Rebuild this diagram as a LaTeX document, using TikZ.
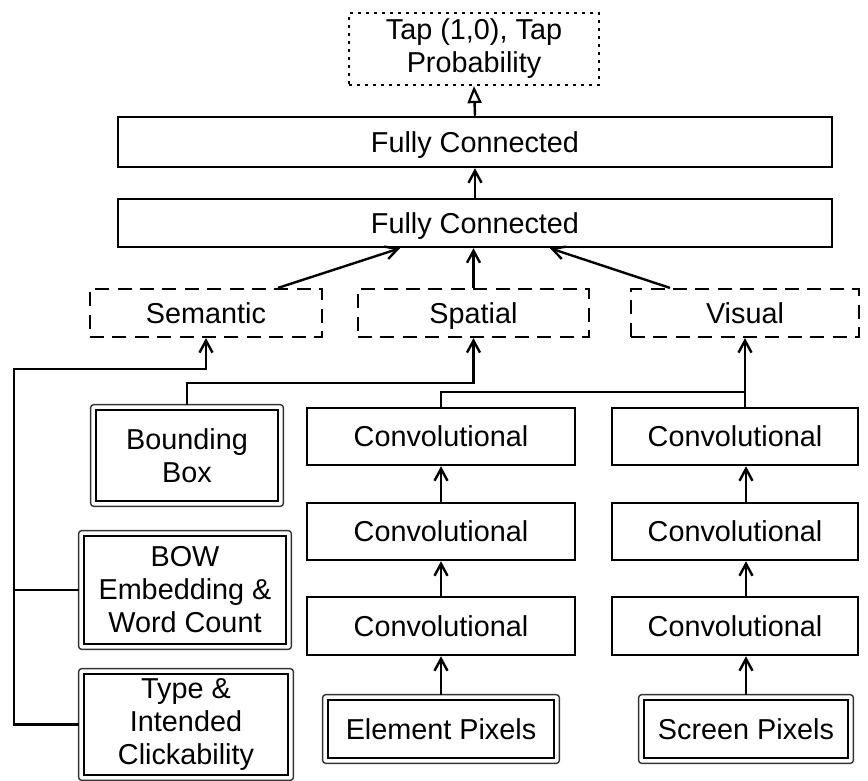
\documentclass[tikz,border=0pt]{standalone}
\usepackage{fontspec}
\setmainfont{Liberation Sans}
\usetikzlibrary{arrows.meta,calc}

\tikzset{
  sz/.style 2 args={minimum width=#1*0.5pt, minimum height=#2*0.5pt},
  base/.style={inner sep=0pt, align=center, font=\fontsize{14.4}{16.5}\selectfont},
  oneline/.style={text height=10.3pt, text depth=0pt},
  layer/.style={base, oneline, draw, line width=1.25pt},
  feature/.style={base, oneline, draw, line width=1.1pt, dash pattern=on 7pt off 4.2pt},
  result/.style={base, draw, line width=1.1pt, dash pattern=on 1.4pt off 2.6pt},
  inputbox/.style={base},
  dblout/.style={line width=0.7pt, draw=black!80, rounded corners=1.6pt},
  dblin/.style={line width=0.95pt},
  link/.style={line width=1.2pt},
  arr/.style={link, -{Straight Barb[length=6pt,width=6.5pt,line width=1.2pt]}},
  tri/.style={link, -{Triangle[open,length=8.5pt,width=7pt,line width=1.1pt,fill=white]}}
}

\begin{document}
\begin{tikzpicture}[x=0.5pt,y=-0.5pt]
\useasboundingbox (0,0) rectangle (868,781);

% output and dense layers
\node[result, sz={250}{72}] (out) at (474,49) {Tap (1,0), Tap\\Probability};
\node[layer, sz={714}{50}] (fc2) at (475,142) {Fully Connected};
\node[layer, sz={714}{48}] (fc1) at (475,223) {Fully Connected};

% feature groups
\node[feature, sz={232}{48}] (sem) at (206,313) {Semantic};
\node[feature, sz={231}{48}] (spa) at (473.5,313) {Spatial};
\node[feature, sz={228}{48}] (vis) at (745,313) {Visual};

% convolutional towers
\node[layer, sz={268}{57}] (cl1) at (441,436.5) {Convolutional};
\node[layer, sz={268}{57}] (cl2) at (441,531.5) {Convolutional};
\node[layer, sz={268}{58}] (cl3) at (441,626) {Convolutional};
\node[layer, sz={246}{57}] (cr1) at (735,436.5) {Convolutional};
\node[layer, sz={246}{57}] (cr2) at (735,531.5) {Convolutional};
\node[layer, sz={246}{58}] (cr3) at (735,626) {Convolutional};

% raw inputs (double-framed)
\node[inputbox, oneline, sz={236}{68}] (ep) at (441,729) {Element Pixels};
\node[inputbox, oneline, sz={214}{68}] (sp) at (746,729) {Screen Pixels};
\node[inputbox, sz={192}{101}] (bb) at (187,455.5) {Bounding\\Box};
\node[inputbox, sz={212}{118}] (bow) at (185,590) {BOW\\Embedding \&\\Word Count};
\node[inputbox, sz={214}{111}] (typ) at (186,724.5) {Type \&\\Intended\\Clickability};

\foreach \n in {ep,sp,bb,bow,typ}{
  \draw[dblout] (\n.south west) rectangle (\n.north east);
  \draw[dblin] ([shift={(5,-5)}]\n.south west) rectangle ([shift={(-5,5)}]\n.north east);
}

% junction levels
\coordinate (lx) at (14,369);
\coordinate (jb) at (0,383);
\coordinate (jc) at (0,392);

% top of the network
\draw[tri] (fc2.north) -- (out.south);
\draw[arr] (fc1.north) -- (fc2.south);
\draw[arr] ($(sem.north)+(72,0)$) -- ($(fc1.south)+(-75,0)$);
\draw[arr] (spa.north) -- (spa.north |- fc1.south);
\draw[arr] ($(vis.north)+(-75,0)$) -- ($(fc1.south)+(75,0)$);

% semantic inputs
\draw[arr] (typ.west) -| (lx) -| (sem.south);
\draw[link] (bow.west) -- (bow.west -| lx);

% spatial input
\draw[arr] (bb.north) |- (spa.south |- jb) -- (spa.south);

% visual inputs
\draw[arr] (cl1.north) |- (vis.south |- jc) -- (vis.south);
\draw[link] (cr1.north -| vis.south) -- (vis.south |- jc);

% convolution stacks
\draw[arr] (ep.north) -- (ep.north |- cl3.south);
\draw[arr] (cl3.north -| ep.north) -- (cl2.south -| ep.north);
\draw[arr] (cl2.north -| ep.north) -- (cl1.south -| ep.north);
\draw[arr] (sp.north) -- (sp.north |- cr3.south);
\draw[arr] (cr3.north -| sp.north) -- (cr2.south -| sp.north);
\draw[arr] (cr2.north -| sp.north) -- (cr1.south -| sp.north);
\end{tikzpicture}
\end{document}
